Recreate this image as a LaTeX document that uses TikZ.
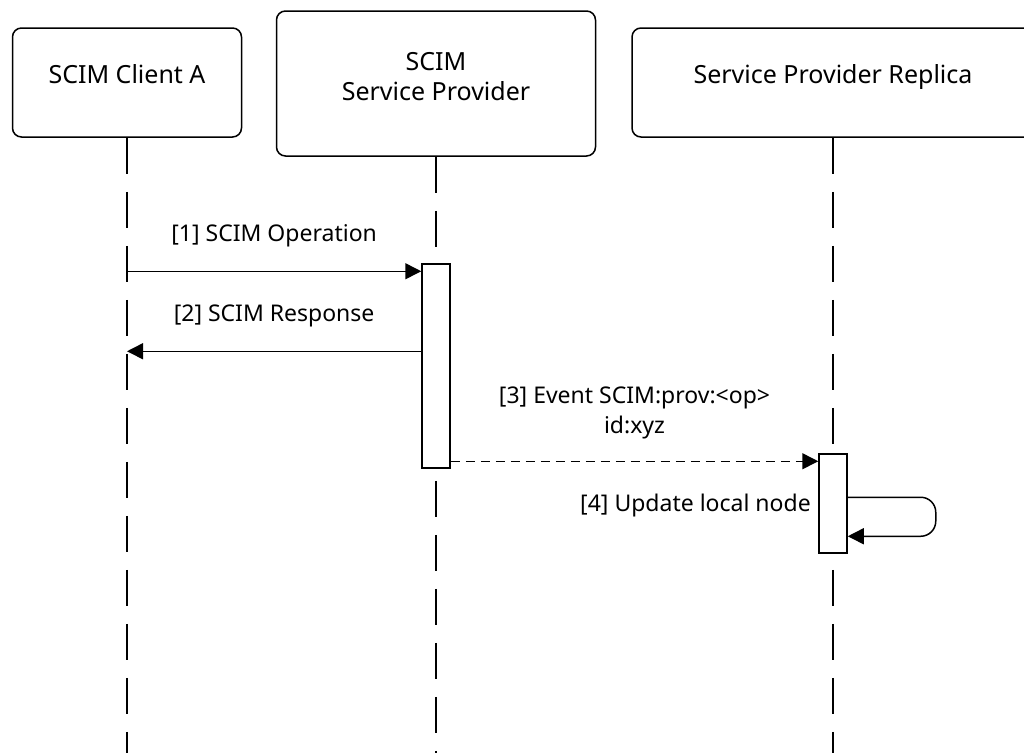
\documentclass[tikz,border=0pt]{standalone}
\usepackage{fontspec}
\setmainfont{Noto Sans}
\usetikzlibrary{arrows.meta, calc, positioning}

\begin{document}
\begin{tikzpicture}[x=1pt, y=-1pt, >={Triangle[length=16pt, width=16pt]},
	font=\fontsize{23}{30}\selectfont,
	head/.style={draw, line width=1.5pt, rounded corners=9pt, align=center, font=\fontsize{25}{30}\selectfont},
	act/.style={draw, fill=white, line width=1.5pt, minimum width=28pt, inner sep=0pt},
	lifeline/.style={line width=1.4pt, dash pattern=on 36pt off 18pt},
	msg/.style={->, line width=1.5pt},
	reply/.style={msg, dash pattern=on 9pt off 6pt}]
\path[use as bounding box, clip] (0,0) rectangle (1024,753);
%========================
% participants
%========================
\node[head, minimum width=229pt, minimum height=109pt, text depth=18pt] (client) at (127,82.5) {SCIM Client A};
\node[head, minimum width=319pt, minimum height=145pt, text depth=15pt] (sp) at (436,83.5) {SCIM\\Service Provider};
\node[head, minimum width=402pt, minimum height=109pt, text depth=18pt] (replica) at (833,82.5) {Service Provider Replica};

% lifelines down to the bottom edge
\coordinate (bottom) at (0,753);
\foreach \n in {client, sp, replica}
	\draw[lifeline] (\n) -- (\n |- bottom);

% activations
\node[act, minimum height=204pt] (act1) at (436,366) {};
\node[act, minimum height=99pt] (act2) at (833,503.5) {};

%========================
% messages
%========================
\coordinate (op) at ($(act1.north west)+(0,8)$);
\draw[msg] (client |- op) -- (op) node[midway, above=20pt] (opLabel) {[1] SCIM Operation};

\coordinate (resp) at ($(act1.north west)+(0,88)$);
\draw[msg] (resp) -- (client |- resp) node[midway, above=20pt] (respLabel) {[2] SCIM Response};

\coordinate (ev) at ($(act2.north west)+(0,8)$);
\draw[reply] (act1.east |- ev) -- (ev) node[midway, above=18pt, align=center] (evLabel) {[3] Event SCIM:prov:<op>\\id:xyz};

% self call on the replica
\coordinate (upd) at ($(act2.north east)+(0,44)$);
\draw[msg, rounded corners=15pt] (upd) -- ++(88,0) -- ++(0,39) -- ++(-88,0);
\node[anchor=east] (updLabel) at ($(act2.west |- upd)+(-4,8)$) {[4] Update local node};
\end{tikzpicture}
\end{document}
